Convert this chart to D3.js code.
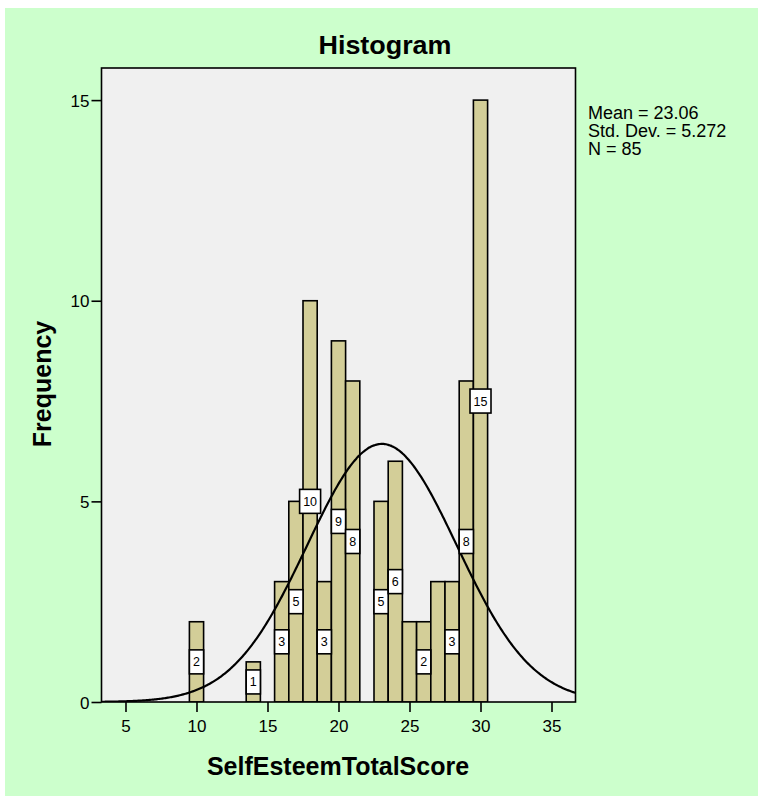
<!DOCTYPE html>
<html><head><meta charset="utf-8">
<script src="https://cdn.jsdelivr.net/npm/d3@7"></script>
<style>
html,body{margin:0;padding:0;background:#fff;}
svg{display:block;font-family:"Liberation Sans",Arial,sans-serif;}
</style></head>
<body>
<svg id="chart" width="758" height="796"></svg>
<script>
const scores = [10, 14, 16, 17, 18, 19, 20, 21, 23, 24, 25, 26, 27, 28, 29, 30];
const frequencies = [2, 1, 3, 5, 10, 3, 9, 8, 5, 6, 2, 2, 3, 3, 8, 15];
const showLabel = [true, true, true, true, true, true, true, true, true, true, false, true, false, true, true, true];
const xTicks = [5, 10, 15, 20, 25, 30, 35];
const yTicks = [0, 5, 10, 15];
const statLabels = ["Mean = 23.06", "Std. Dev. = 5.272", "N = 85"];
const mean = 23.06, sd = 5.272, n = 85, binWidth = 1;
const xDomain = [3.31, 36.69];
const yDomain = [0, 15.8];

const svg = d3.select("#chart");
svg.append("rect").attr("x",5).attr("y",8).attr("width",753).attr("height",788).attr("fill","#ccffcc");

const L = 101.5, R = 575.5, T = 68, B = 702;
const x = d3.scaleLinear().domain(xDomain).range([L, R]);
const y = d3.scaleLinear().domain(yDomain).range([B, T]);

svg.append("rect").attr("x",L).attr("y",T).attr("width",R-L).attr("height",B-T).attr("fill","#f0f0f0");

svg.append("clipPath").attr("id","clip").append("rect").attr("x",L).attr("y",T).attr("width",R-L).attr("height",B-T);

const plot = svg.append("g").attr("clip-path","url(#clip)");
const barFill = "#d3ce98";
plot.selectAll("rect.bar").data(scores).join("rect").attr("class","bar")
  .attr("x", d => x(d - binWidth/2))
  .attr("width", d => x(d + binWidth/2) - x(d - binWidth/2))
  .attr("y", (d,i) => y(frequencies[i]))
  .attr("height", (d,i) => y(0) - y(frequencies[i]))
  .attr("fill", barFill).attr("stroke","#000").attr("stroke-width",1.6);

// normal curve
const pts = d3.range(0, 401).map(i => {
  const v = xDomain[0] + (xDomain[1]-xDomain[0]) * i / 400;
  const f = n * binWidth * Math.exp(-0.5*((v-mean)/sd)**2) / (sd*Math.sqrt(2*Math.PI));
  return [v, f];
});
plot.append("path").datum(pts)
  .attr("d", d3.line().x(d => x(d[0])).y(d => y(d[1])).curve(d3.curveBasis))
  .attr("fill","none").attr("stroke","#000").attr("stroke-width",2.2);

// labels
const lab = svg.append("g");
scores.forEach((s,i) => {
  if (!showLabel[i]) return;
  const cx = x(s), cy = y(frequencies[i]/2);
  const bw = x(s + binWidth/2) - x(s - binWidth/2);
  const txt = String(frequencies[i]);
  const w = Math.max(bw, txt.length*7 + 7);
  lab.append("rect").attr("x", cx - w/2).attr("y", cy - 12).attr("width", w).attr("height", 24)
    .attr("fill","#fff").attr("stroke","#000").attr("stroke-width",1.6);
  lab.append("text").attr("x", cx).attr("y", cy + 4.5).attr("text-anchor","middle")
    .attr("font-size", 12.5).attr("fill","#000").text(txt);
});

// frame
svg.append("rect").attr("x",L).attr("y",T).attr("width",R-L).attr("height",B-T)
  .attr("fill","none").attr("stroke","#000").attr("stroke-width",1.6);

// axes
const xAxis = svg.append("g").attr("transform",`translate(0,${B})`)
  .call(d3.axisBottom(x).tickValues(xTicks).tickSize(10).tickPadding(4).tickFormat(d3.format("d")));
xAxis.select(".domain").remove();
xAxis.selectAll("line").attr("stroke","#000").attr("stroke-width",1.6);
xAxis.selectAll("text").attr("font-size",17).attr("font-family","Liberation Sans, Arial, sans-serif").attr("fill","#000").attr("dy","0.95em");

const yAxis = svg.append("g").attr("transform",`translate(${L},0)`)
  .call(d3.axisLeft(y).tickValues(yTicks).tickSize(10).tickPadding(2).tickFormat(d3.format("d")));
yAxis.select(".domain").remove();
yAxis.selectAll("line").attr("stroke","#000").attr("stroke-width",1.6);
yAxis.selectAll("text").attr("font-size",17).attr("font-family","Liberation Sans, Arial, sans-serif").attr("fill","#000").attr("dy","0.36em");

// titles
svg.append("text").attr("x",385).attr("y",54).attr("text-anchor","middle")
  .attr("font-size",25).attr("font-weight","bold").attr("textLength",133).attr("lengthAdjust","spacingAndGlyphs").text("Histogram");
svg.append("text").attr("x",338).attr("y",775).attr("text-anchor","middle")
  .attr("font-size",25).attr("font-weight","bold").text("SelfEsteemTotalScore");
svg.append("text").attr("transform","translate(51,384) rotate(-90)").attr("text-anchor","middle")
  .attr("font-size",25).attr("font-weight","bold").text("Frequency");

// stats
const st = svg.append("text").attr("x",588).attr("y",119).attr("font-size",18).attr("fill","#000");
statLabels.forEach((s,i) => st.append("tspan").attr("x",588).attr("y",119 + i*18.2).text(s));
</script>
</body></html>
